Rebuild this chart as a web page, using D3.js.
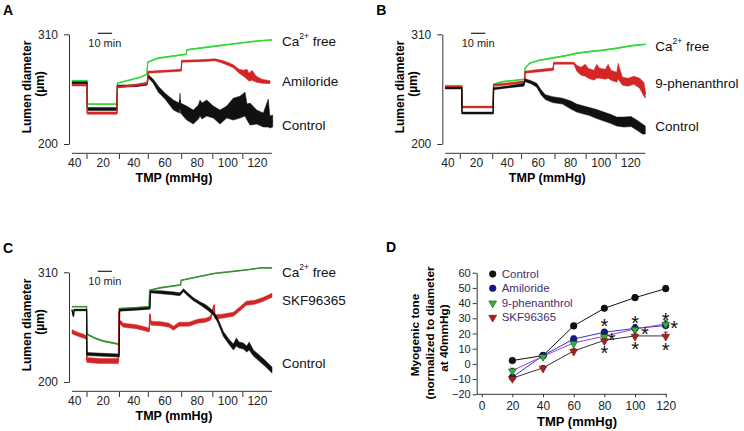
<!DOCTYPE html>
<html><head><meta charset="utf-8">
<script src="https://cdn.jsdelivr.net/npm/d3@7"></script>
<style>body{margin:0;background:#fff}svg{display:block;font-family:"Liberation Sans",Arial,sans-serif}</style>
</head><body><svg id="c" width="744" height="431"></svg>
<script>
// ---------- DATA ----------
// TMP step labels and times (min) at which TMP changes
const tmpLabels = ["40","20","40","60","80","100","120"];
const stepTimes = [10.5,33.2,53.4,76.8,98.6,119.6];
const diamTicks = [200,310];

// traces: [time (min), diameter (µm), noise half-range (µm)]
const aCaFree = [[0,263.5,0.4],[10.5,263.5,0.4],[10.7,240,0.4],[31.5,240,0.4],[31.8,261,0.4],[40,264,0.4],[48,267,0.4],[52.5,270,0.4],[53,282,0.4],[60,286,0.4],[70,288,0.4],[80,290,0.4],[80.4,294.5,0.4],[97,297.5,0.4],[113,300.5,0.4],[131,303.5,0.4],[140,304.5,0.4]];
const aAmiloride = [[0,259,0.8],[10.5,259,0.8],[10.7,231,1.2],[31.5,231,1.2],[31.8,257,0.8],[42,258.5,0.8],[52.8,261,1],[53.2,272,1],[65,273,1],[76.5,274,1],[76.8,283,1],[88,283.5,1],[96,284,1],[100,284.5,1],[104,283,1.2],[108,281,1.5],[112.9,278,1.5],[117,273,2],[120,271,3],[122.5,270,5],[124,267,4],[126,269,5],[129,265,3],[133,263,2],[138.6,262,1.5]];
const aControl = [[0,261.5,1],[10.5,261.5,1],[10.7,235,1.5],[31.5,235,1.5],[31.8,258,1],[45,258.5,1],[52.5,260,1],[53.4,268,1.5],[56.9,263,2],[60.4,255,3],[65.1,248,3],[71,239,5],[75.2,236,5],[75.6,244,7],[76,236,5],[80.3,231,7],[84.9,227,7],[88.5,232,7],[89.6,236,8],[91,233,8],[94.3,236,8],[98.9,232,6],[103.6,227,7],[108.3,232,6],[112.9,235,11],[117.6,237,11],[121.1,240,12],[122.5,232,8],[124.6,230,11],[129.3,227,7],[133.9,224,7],[137.4,231,14],[138.5,222,6],[140.5,223,6]];

const bCaFree = [[0,258.5,0.4],[11.5,258.5,0.4],[11.7,237.5,0.4],[33.5,237.5,0.4],[33.8,260,0.4],[40,262.5,0.4],[50,264,0.4],[55.5,265,0.4],[55.8,276,0.4],[59,281,0.4],[66,284,0.4],[74,286,0.4],[84,288.5,0.4],[92,291,0.4],[100,292.5,0.4],[110,294,0.4],[120,296,0.4],[130,298.5,0.4],[140,300,0.4]];
const bPhenanthrol = [[0,257.5,0.5],[11.5,257.5,0.5],[11.7,237,0.8],[33.5,237,0.8],[33.8,259,1],[45,260.5,1],[55.5,262.5,1],[55.8,272,1],[65,273.5,1.2],[75.5,275,1.2],[75.9,281,1],[90,281,1],[92,276,3],[95,273,4],[98,274,6],[100,271,5],[104,269,5],[106,273,7],[108,271,5],[112,270,5],[114,273,7],[116,269,5],[120,267,5],[121,273,8],[124,263,4],[128,262,4],[132,264,4],[136,261,5],[139,255,7],[140,250,4]];
const bControl = [[0,256,0.8],[11.5,256,0.8],[11.7,231,1],[33.5,231,1],[33.8,255.5,1],[45,257.5,1],[55,259.5,1.5],[55.8,264,1.5],[60,262,1.5],[64,259,2],[67,252,2.5],[70,247,2.5],[75,244.5,3],[82,243,3],[88,239,4],[92,236,4],[97,234,4],[101,232.5,4],[106,230,4.5],[111,227.5,4.5],[116,225,4.5],[120,222.5,4.5],[125,222,5],[130,222.5,5],[134,219,5],[138,215,5],[140,214,4]];

const cCaFree = [[0,275.5,0.4],[10.2,275.5,0.4],[10.4,248,0.6],[16,244,0.6],[22,241,0.6],[32.8,238,0.6],[33.1,273.5,0.4],[45,274.5,0.4],[54,275.5,0.4],[54.3,292,0.4],[62,294.5,0.4],[76,297.3,0.4],[76.4,302,0.4],[88,305.5,0.4],[100,309,0.4],[113,311,0.4],[125,313,0.4],[132,314.5,0.4],[140,314.5,0.4]];
const cSKF = [[0,250.5,2],[4,248,2],[8,246,2],[10.2,244.5,2],[10.4,222,2.5],[20,221,2.5],[32.5,221,2.5],[32.8,270,1],[33.2,260.5,2],[36,257,2],[45,255.5,2],[52,253,2],[54,252,2],[54.6,268,1],[55.2,259,2],[62,258.5,2],[68,257,2],[71,254,2],[75,258,2],[82,258,2],[88,261,2],[93.5,262,2],[97,264,2],[99.5,277,1],[100,265.5,2],[105,266,2],[113,268,2],[118,274,2],[122,279,2],[128,280,2],[134,283,2],[140,287,2]];
const cControl = [[0,272.2,0.8],[1,266,1],[1.5,272.2,0.8],[10.2,272.2,0.8],[10.4,228,1.5],[33,226.5,1.5],[33.3,272,1],[45,273,1],[54.5,274,1],[55,290.5,1],[62,290,1.5],[70,289,1.5],[75.5,288,1.5],[78,292,1.5],[81,288,1.5],[85,283,1.5],[89.5,279,1.5],[93,276,2],[95,274,2],[99,269,2],[102,262,2],[106,248,2.5],[110,240,2.5],[113,235,3],[115,240,4],[117,237,3],[120,236,3],[122.3,233,3],[124,236,4],[127,229,3],[131,224,3],[135,219,3],[140,212,3]];

// panel D
const dTMP = [20,40,60,80,100,120];
const dControl = [2.2,5.5,25,36.6,43.6,49.5];
const dAmiloride = [-8.8,5.5,16.4,20.8,23.4,25.2];
const dPhenanthrol = [-4.4,5,13.8,18.2,23,26.3];
const dSKF = [-9.4,-2.6,8.5,15.5,18.4,18.4];
const dControlErr = [1.2,1.2,1.5,1.5,1.8,1.8];
const dAmilorideErr = [1.5,1.5,2,2,2.5,2.5];
const dPhenanthrolErr = [1.5,1.5,2,2,2,2.5];
const dSKFErr = [1.5,1.5,1.5,2,2,2.5];
const dSeriesNames = ["Control","Amiloride","9-phenanthrol","SKF96365"];
const dStars = [[80,27.8],[84.8,19],[80,10.3],[100,29.8],[106.5,22.8],[100,12.9],[120,31.8],[125.5,26.3],[120,11.8]];
const dYTicks = [-20,-10,0,10,20,30,40,50,60];
const dXTicks = [0,20,40,60,80,100,120];

// ---------- DRAW ----------
const svg = d3.select("#c");
const GREEN = "#33d633", DKGREEN = "#3a8f3a", RED = "#d42626", BLACK = "#111";

function traceChart(opt){
  const g = svg.append("g").attr("transform",`translate(${opt.dx},${opt.dy})`);
  const x = d3.scaleLinear().domain([0,140]).range([72,272]);
  const y = d3.scaleLinear().domain([200,310]).range([144,34.3]);
  const ya = g.append("g").attr("transform","translate(69,0)")
    .call(d3.axisLeft(y).tickValues(diamTicks).tickSize(5).tickPadding(6).tickSizeOuter(0));
  ya.selectAll("text").attr("font-size",12).attr("fill","#222").attr("font-family","Liberation Sans, Arial, sans-serif");
  ya.selectAll("line,path").attr("stroke","#333");
  g.append("line").attr("x1",x(0)).attr("x2",x(140)).attr("y1",153.3).attr("y2",153.3).attr("stroke","#333");
  g.selectAll(".stp").data(stepTimes).enter().append("line")
    .attr("x1",d=>x(d)).attr("x2",d=>x(d)).attr("y1",154).attr("y2",159).attr("stroke","#333");
  const bounds = [0,...stepTimes,140];
  g.selectAll(".tl").data(tmpLabels).enter().append("text")
    .attr("x",(d,i)=> i===0 ? x(0)-4 : x((bounds[i]+bounds[i+1])/2))
    .attr("text-anchor",(d,i)=> i===0 ? "start":"middle")
    .attr("y",166.5).attr("font-size",12).attr("fill","#222").text(d=>d);
  g.append("text").attr("x",174).attr("y",181.5).attr("text-anchor","middle")
    .attr("font-size",12.5).attr("font-weight","bold").text("TMP (mmHg)");
  g.append("text").attr("transform","translate(31,87) rotate(-90)").attr("text-anchor","middle")
    .attr("font-size",12).attr("font-weight","bold").text("Lumen diameter");
  g.append("text").attr("transform","translate(44,84) rotate(-90)").attr("text-anchor","middle")
    .attr("font-size",12).attr("font-weight","bold").text("(\u00b5m)");
  g.append("text").attr("x",3).attr("y",15).attr("font-size",14).attr("font-weight","bold").text(opt.letter);
  g.append("line").attr("x1",x(18)).attr("x2",x(28)).attr("y1",y(311)).attr("y2",y(311)).attr("stroke","#222").attr("stroke-width",1.2);
  g.append("text").attr("x",x(23)).attr("y",y(297)).attr("text-anchor","middle").attr("font-size",11).attr("fill","#222").text("10 min");
  const area = d3.area().x(d=>x(d[0])).y0(d=>y(d[1]-d[2])).y1(d=>y(d[1]+d[2]));
  const line = d3.line().x(d=>x(d[0])).y(d=>y(d[1]));
  opt.traces.forEach(([data,col])=>{
    g.append("path").datum(data).attr("d",area).attr("fill",col).attr("stroke",col).attr("stroke-width",0.5);
    g.append("path").datum(data).attr("d",line).attr("fill","none").attr("stroke",col).attr("stroke-width",1.3);
  });
  opt.labels.forEach(([txt,v])=>{
    const t = g.append("text").attr("x",x(140)+10).attr("y",y(v)).attr("dominant-baseline","central")
      .attr("font-size",13.5).attr("fill","#111");
    if(txt==="Ca free"){
      t.append("tspan").text("Ca");
      t.append("tspan").attr("font-size",8.5).attr("dy",-5).text("2+");
      t.append("tspan").attr("dy",5).text(" free");
    } else t.text(txt);
  });
}

traceChart({dx:0,dy:0,letter:"A",traces:[[aCaFree,GREEN],[aControl,BLACK],[aAmiloride,RED]],
  labels:[["Ca free",303.3],["Amiloride",262.6],["Control",218.2]]});
traceChart({dx:373.3,dy:0,letter:"B",traces:[[bCaFree,GREEN],[bPhenanthrol,RED],[bControl,BLACK]],
  labels:[["Ca free",298.3],["9-phenanthrol",260.2],["Control",217.3]]});
traceChart({dx:0,dy:238,letter:"C",traces:[[cCaFree,DKGREEN],[cSKF,RED],[cControl,BLACK]],
  labels:[["Ca free",310.6],["SKF96365",282.2],["Control",219]]});

// ---------- PANEL D ----------
const gd = svg.append("g");
const xd = d3.scaleLinear().domain([0,120]).range([481.7,665.7]);
const yd = d3.scaleLinear().domain([-20,60]).range([394.3,272.7]);
const yax = gd.append("g").attr("transform","translate(476.7,0)")
  .call(d3.axisLeft(yd).tickValues(dYTicks).tickSize(4).tickPadding(2).tickSizeOuter(0));
yax.selectAll("text").attr("font-size",11).attr("fill","#222").attr("font-family","Liberation Sans, Arial, sans-serif");
yax.selectAll("line,path").attr("stroke","#333");
gd.append("line").attr("x1",476.7).attr("x2",667).attr("y1",394.3).attr("y2",394.3).attr("stroke","#333");
const xax = gd.append("g").attr("transform","translate(0,394.3)")
  .call(d3.axisBottom(xd).tickValues(dXTicks).tickSize(3).tickPadding(4));
xax.select(".domain").remove();
xax.selectAll("text").attr("font-size",12).attr("fill","#222").attr("font-family","Liberation Sans, Arial, sans-serif");
xax.selectAll("line").attr("stroke","#333");
gd.append("text").attr("x",577).attr("y",426).attr("text-anchor","middle").attr("font-size",13).attr("font-weight","bold").text("TMP (mmHg)");
[["Myogenic tone",418.5,335],["(normalized to diameter",434,333],["at 40mmHg)",447.5,338]].forEach(([t,xx,yy])=>{
  gd.append("text").attr("transform",`translate(${xx},${yy}) rotate(-90)`).attr("text-anchor","middle")
    .attr("font-size",11.8).attr("font-weight","bold").text(t);
});
gd.append("text").attr("x",386).attr("y",251.7).attr("font-size",14).attr("font-weight","bold").text("D");

const series = [
  {v:dControl,e:dControlErr,line:"#111",fill:"#111",stroke:"#000",sym:"circle"},
  {v:dAmiloride,e:dAmilorideErr,line:"#3535d0",fill:"#16168a",stroke:"#0a0a50",sym:"circle"},
  {v:dPhenanthrol,e:dPhenanthrolErr,line:"#a040c8",fill:"#2fb52f",stroke:"#124f12",sym:"tri"},
  {v:dSKF,e:dSKFErr,line:"#333",fill:"#b01e1e",stroke:"#5a0c0c",sym:"tri"}
];
const ld = d3.line().x((d,i)=>xd(dTMP[i])).y(d=>yd(d));
const symTri = d3.symbol().type(d3.symbolTriangle).size(26);
const symCirc = d3.symbol().type(d3.symbolCircle).size(34);
function marker(g,s,cx,cy){
  if(s.sym==="circle") g.append("path").attr("d",symCirc()).attr("transform",`translate(${cx},${cy})`).attr("fill",s.fill).attr("stroke",s.stroke).attr("stroke-width",0.6);
  else g.append("path").attr("d",symTri()).attr("transform",`translate(${cx},${cy+0.6}) rotate(180)`).attr("fill",s.fill).attr("stroke",s.stroke).attr("stroke-width",0.6);
}
series.forEach(s=>{
  gd.append("path").datum(s.v).attr("d",ld).attr("fill","none").attr("stroke",s.line).attr("stroke-width",1);
});
series.forEach(s=>{
  s.v.forEach((v,i)=>{
    gd.append("line").attr("x1",xd(dTMP[i])).attr("x2",xd(dTMP[i])).attr("y1",yd(v-s.e[i])).attr("y2",yd(v+s.e[i])).attr("stroke","#111").attr("stroke-width",1);
    gd.append("line").attr("x1",xd(dTMP[i])-2).attr("x2",xd(dTMP[i])+2).attr("y1",yd(v+s.e[i])).attr("y2",yd(v+s.e[i])).attr("stroke","#111").attr("stroke-width",0.8);
  });
});
series.forEach(s=>{ s.v.forEach((v,i)=> marker(gd,s,xd(dTMP[i]),yd(v))); });
gd.selectAll(".star").data(dStars).enter().append("text")
  .attr("x",d=>xd(d[0])).attr("y",d=>yd(d[1])+11.5).attr("text-anchor","middle")
  .attr("font-size",20).attr("fill","#111").text("*");
const legY = [274,288.3,302.6,317];
series.forEach((s,i)=>{
  marker(gd,s,492.7,legY[i]);
  gd.append("text").attr("x",501.7).attr("y",legY[i]).attr("dominant-baseline","central")
    .attr("font-size",11.5).attr("fill","#4a2c6e").text(dSeriesNames[i]);
});
</script></body></html>
